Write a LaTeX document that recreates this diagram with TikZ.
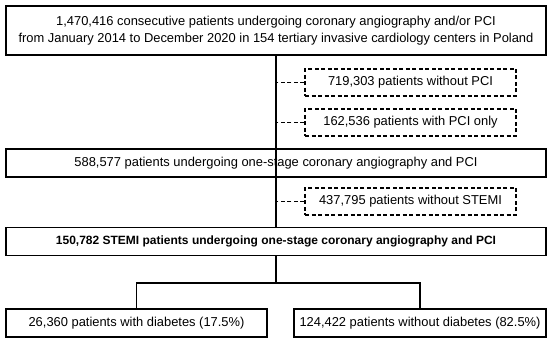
\documentclass[tikz,border=0pt]{standalone}
\usepackage{fontspec}
\setmainfont{Liberation Sans}
\usepackage{tikz}
\usetikzlibrary{positioning, calc}

\begin{document}
\begin{tikzpicture}[
    x=1pt, y=-1pt,
    box/.style={draw, rectangle, minimum width=540pt, minimum height=28pt, inner sep=0pt, align=center, fill=white, line width=1.4pt, font=\fontsize{12.9}{16.5}\selectfont},
    exclbox/.style={box, dash pattern=on 4pt off 2.5pt, minimum width=211pt, minimum height=27pt},
    halfbox/.style={box, minimum width=261pt},
    link/.style={line width=1.4pt},
    exlink/.style={line width=1.4pt, dash pattern=on 4pt off 2.5pt}
]
\useasboundingbox (0,0) rectangle (550,342);
% --- COORDINATE GRID ---
\node[box, minimum height=49pt] (all) at (276, 30.5) {1,470,416 consecutive patients undergoing coronary angiography and/or PCI\\from January 2014 to December 2020 in 154 tertiary invasive cardiology centers in Poland};
\node[exclbox] (nopci) at (410.5, 82.5) {719,303 patients without PCI};
\node[exclbox] (pcionly) at (410.5, 122.5) {162,536 patients with PCI only};
\node[box] (onestage) at (276, 163) {588,577 patients undergoing one-stage coronary angiography and PCI};
\node[exclbox] (nostemi) at (410.5, 201.5) {437,795 patients without STEMI};
\node[box, font=\fontsize{12}{15}\selectfont\bfseries] (stemi) at (276, 241.5) {150,782 STEMI patients undergoing one-stage coronary angiography and PCI};

\node[halfbox] (dm) at (136.5, 323) {26,360 patients with diabetes (17.5\%)};
\node[halfbox, minimum width=252pt] (nodm) at (420, 323) {124,422 patients without diabetes (82.5\%)};

\coordinate (split) at (276, 283);

% --- FLOW LINES ---
\draw[link] (all) -- (stemi);
\draw[link] (stemi) -- (split);
\draw[link] (dm) |- (split) -| (nodm);

% --- EXCLUSIONS ---
\draw[exlink] (nopci.west) -- (nopci.west -| all.south);
\draw[exlink] (pcionly.west) -- (pcionly.west -| all.south);
\draw[exlink] (nostemi.west) -- (nostemi.west -| all.south);
\end{tikzpicture}
\end{document}
